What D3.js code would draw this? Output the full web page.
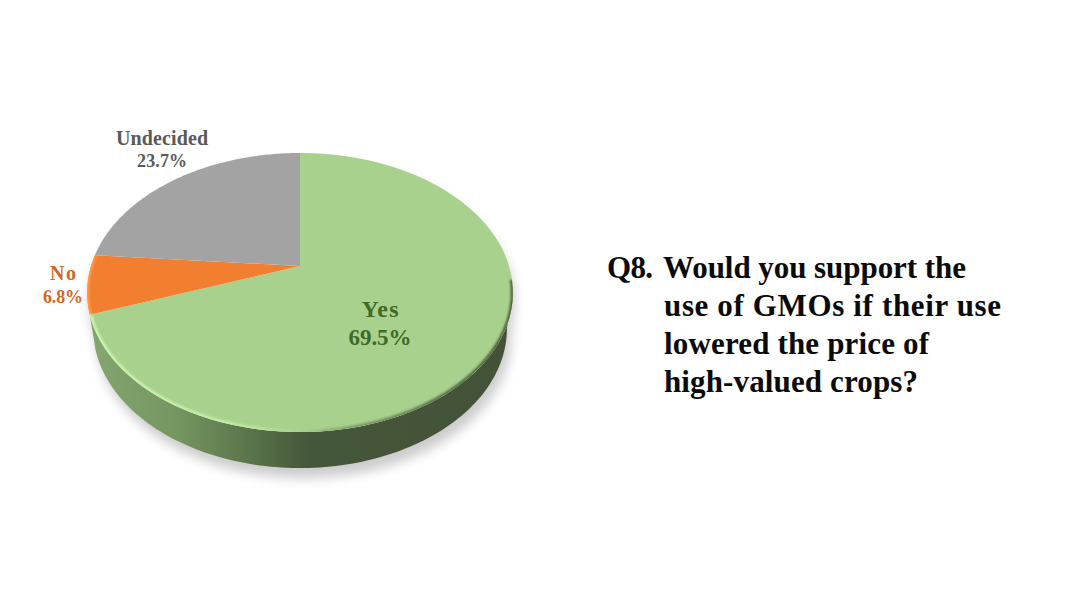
<!DOCTYPE html>
<html><head><meta charset="utf-8">
<script src="https://cdn.jsdelivr.net/npm/d3@7"></script>
<style>html,body{margin:0;background:#fff}svg{display:block}text{font-family:"Liberation Serif",serif;font-weight:700}</style>
</head><body><svg id="c" width="1080" height="608"></svg>
<script>
const categories = ["Yes","No","Undecided"];
const values = [69.5,6.8,23.7];
const valueLabels = ["69.5%","6.8%","23.7%"];
const sliceColors = ["#a9d18e","#f27f30","#a3a3a3"];
const labelColors = ["#3f6b26","#d2661f","#595959"];
const titleLines = ["Q8.","Would you support the","use of GMOs if their use","lowered the price of","high-valued crops?"];

const svg = d3.select("#c");
const cx=300, cy=266, A=209, B=134.5, tilt=0.19, depth=36;
// perspective view of the pie disc; angle measured clockwise from 12 o'clock
const proj = a => { const X=Math.sin(a),Y=Math.cos(a),w=1+tilt*Y; return [cx+A*X/w, cy-B*Y/w]; };
const pie = d3.pie().sort(null)(values);
const line = d3.line();
const arcPts = (a0,a1) => d3.range(0,121).map(i=>proj(a0+(a1-a0)*i/120));

const defs = svg.append("defs");
const f1=defs.append("filter").attr("id","blurS").attr("x","-20%").attr("y","-20%").attr("width","140%").attr("height","140%");
f1.append("feGaussianBlur").attr("stdDeviation",6);
const f2=defs.append("filter").attr("id","blurR").attr("x","-5%").attr("y","-5%").attr("width","110%").attr("height","110%");
f2.append("feGaussianBlur").attr("stdDeviation",1.2);
const grad=(id,stops,x1=87,x2=513)=>{const g=defs.append("linearGradient").attr("id",id).attr("gradientUnits","userSpaceOnUse").attr("x1",x1).attr("x2",x2).attr("y1",0).attr("y2",0);
  stops.forEach(s=>g.append("stop").attr("offset",s[0]).attr("stop-color",s[1]));};
grad("side",[[0,"#84a670"],[0.2,"#769762"],[0.33,"#627f51"],[0.52,"#45573a"],[1,"#435237"]]);
grad("rim",[[0,"#d2f7b4"],[0.35,"#c6eea8"],[0.5,"#a9d18e"],[0.62,"#7f9c69"],[0.85,"#566d45"],[1,"#4e623f"]]);

const lowA0=Math.PI/2+0.19, lowA1=pie[0].endAngle;
const lower=arcPts(lowA0,lowA1);
const outline=arcPts(0,2*Math.PI);
const shrink=0.972;
const dropped=lower.map(p=>[cx+(p[0]-cx)*shrink,p[1]+depth]);

// soft ground shadow
svg.append("path").attr("d",line(dropped.map(p=>[p[0]+4,p[1]+10]).concat(arcPts(lowA1,lowA0+2*Math.PI).map(p=>[p[0]+2,p[1]+10])))+"Z")
  .attr("fill","#000").attr("opacity",.2).attr("filter","url(#blurS)");
svg.append("path").attr("d",line(outline)+"Z").attr("fill","#fff");

// side wall
svg.append("path").attr("d",line(lower.concat(dropped.slice().reverse()))+"Z").attr("fill","url(#side)");

// top face
svg.append("g").selectAll("path").data(pie).join("path")
  .attr("d",d=>line([[cx,cy],...arcPts(d.startAngle,d.endAngle)])+"Z")
  .attr("fill",(d,i)=>sliceColors[i]);

// bevel along the rim
defs.append("clipPath").attr("id","face").append("path").attr("d",line(outline)+"Z");
const rim=svg.append("g").attr("clip-path","url(#face)").attr("fill","none").attr("filter","url(#blurR)");
rim.append("path").attr("d",line(arcPts(Math.PI/2+0.1,pie[0].endAngle))).attr("stroke","url(#rim)").attr("stroke-width",4.5);
rim.append("path").attr("d",line(arcPts(pie[1].startAngle,pie[1].endAngle))).attr("stroke","#ff9c4c").attr("stroke-width",4);

// data labels
const labelPos=[{x:380,y:[317,345],s:[24,23],w:[37,63]},{x:63,y:[280,303],s:[20,18],w:[26,40]},{x:162,y:[145,167],s:[20,18],w:[92,50]}];
categories.forEach((c,i)=>{
  const p=labelPos[i];
  [c,valueLabels[i]].forEach((t,j)=>svg.append("text").attr("x",p.x).attr("y",p.y[j]).attr("text-anchor","middle")
    .attr("font-size",p.s[j]).attr("fill",labelColors[i]).attr("textLength",p.w[j]).attr("lengthAdjust","spacing").text(t));
});

// question text
const tx=[[607,278,46],[663,278,303],[664,316,337],[664,354,265],[664,392,254]];
titleLines.forEach((t,i)=>svg.append("text").attr("x",tx[i][0]).attr("y",tx[i][1]).attr("font-size",31).attr("fill","#0a0a0a")
  .attr("textLength",tx[i][2]).attr("lengthAdjust","spacing").text(t));
</script></body></html>
